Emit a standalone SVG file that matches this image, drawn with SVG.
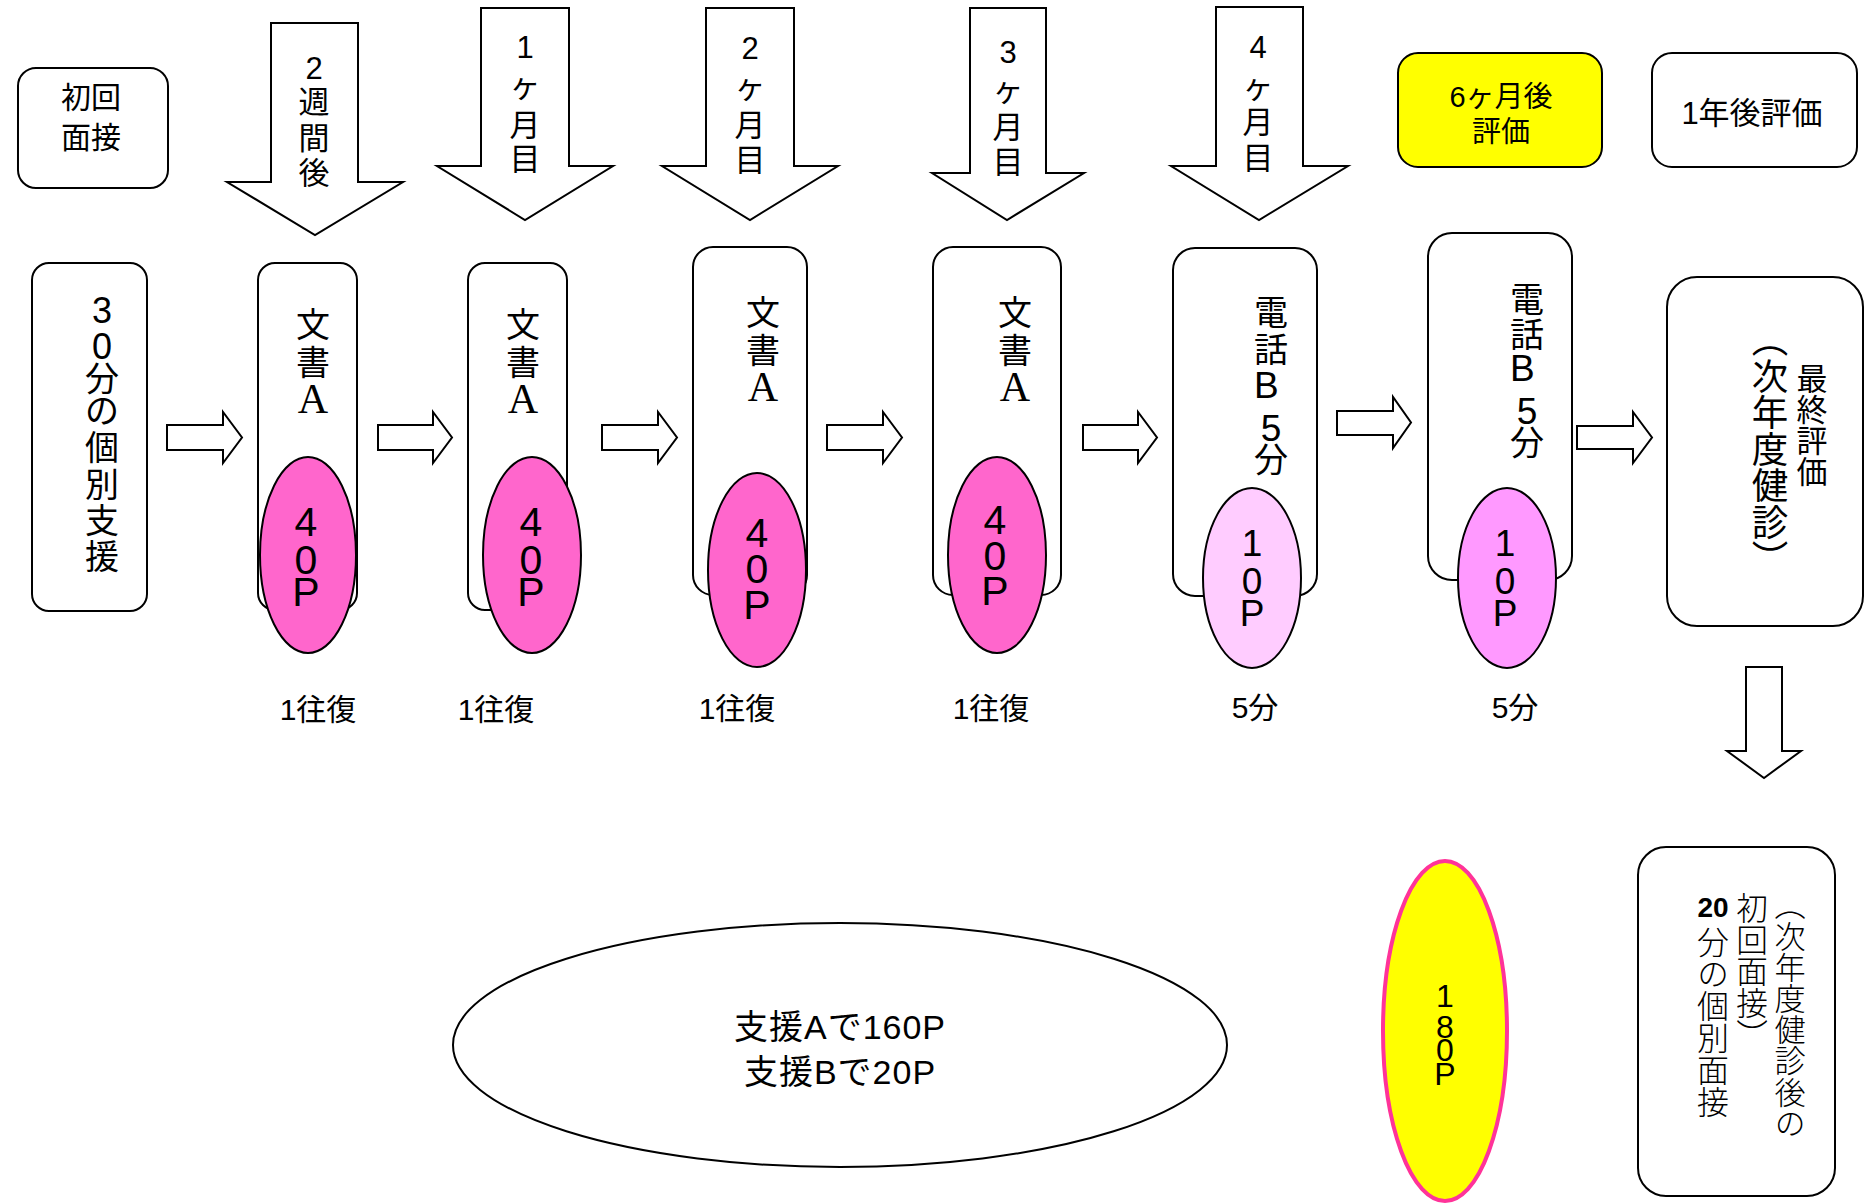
<svg xmlns="http://www.w3.org/2000/svg" width="1865" height="1203" viewBox="0 0 1865 1203">
<style>
.box{fill:#fff;stroke:#000;stroke-width:2}
.arr{fill:#fff;stroke:#000;stroke-width:2;stroke-linejoin:miter}
.t{font-family:"Liberation Sans","Noto Sans CJK JP",sans-serif;fill:#000;dominant-baseline:central;text-anchor:middle}
.serif{font-family:"Liberation Serif","Noto Sans CJK JP",serif}
.vt{font-family:"Noto Sans CJK JP",sans-serif;fill:#000;writing-mode:vertical-rl;text-anchor:start}
.e40{fill:#FF66CC;stroke:#000;stroke-width:2}
.big{font-size:42px}
</style>
<rect width="1865" height="1203" fill="#fff"/>

<g id="shoki-mensetsu">
<rect class="box" x="18" y="68" width="150" height="120" rx="18"/>
<text class="t" font-size="30"><tspan x="91" y="97">初回</tspan><tspan x="91" y="137">面接</tspan></text>
</g>

<g id="arrow-2w">
<polygon class="arr" points="271,23 358,23 358,182 403,182 315,235 227,182 271,182"/>
<text class="t" font-size="31"><tspan x="314" y="68">2</tspan><tspan x="314" y="102">週</tspan><tspan x="314" y="138">間</tspan><tspan x="314" y="173">後</tspan></text>
</g>
<g id="arrow-1m">
<polygon class="arr" points="481,8 569,8 569,166 613,166 525,220 437,166 481,166"/>
<text class="t" font-size="31"><tspan x="525" y="47">1</tspan><tspan x="525" y="86">ヶ</tspan><tspan x="525" y="125">月</tspan><tspan x="525" y="159">目</tspan></text>
</g>
<g id="arrow-2m">
<polygon class="arr" points="706,8 794,8 794,166 838,166 750,220 662,166 706,166"/>
<text class="t" font-size="31"><tspan x="750" y="48">2</tspan><tspan x="750" y="87">ヶ</tspan><tspan x="750" y="125">月</tspan><tspan x="750" y="160">目</tspan></text>
</g>
<g id="arrow-3m">
<polygon class="arr" points="970,8 1046,8 1046,173 1084,173 1007,220 932,173 970,173"/>
<text class="t" font-size="31"><tspan x="1008" y="52">3</tspan><tspan x="1008" y="90">ヶ</tspan><tspan x="1008" y="127">月</tspan><tspan x="1008" y="162">目</tspan></text>
</g>
<g id="arrow-4m">
<polygon class="arr" points="1216,7 1303,7 1303,166 1348,166 1259,220 1171,166 1216,166"/>
<text class="t" font-size="31"><tspan x="1258" y="47">4</tspan><tspan x="1258" y="87">ヶ</tspan><tspan x="1258" y="122">月</tspan><tspan x="1258" y="158">目</tspan></text>
</g>

<g id="hyoka-6m">
<rect x="1398" y="53" width="204" height="114" rx="20" fill="#FFFF00" stroke="#000" stroke-width="2"/>
<text class="t" font-size="29"><tspan x="1501" y="97">6ヶ月後</tspan><tspan x="1501" y="132">評価</tspan></text>
</g>
<g id="hyoka-1y">
<rect class="box" x="1652" y="53" width="205" height="114" rx="20"/>
<text class="t" font-size="31" x="1752" y="113">1年後評価</text>
</g>

<g id="kobetsu-30">
<rect class="box" x="32" y="263" width="115" height="348" rx="17"/>
<text class="t" font-size="34"><tspan x="102" y="310" font-size="36">3</tspan><tspan x="102" y="346" font-size="36">0</tspan><tspan x="102" y="379">分</tspan><tspan x="102" y="411">の</tspan><tspan x="102" y="448">個</tspan><tspan x="102" y="485">別</tspan><tspan x="102" y="521">支</tspan><tspan x="102" y="557">援</tspan></text>
</g>

<g id="bunsho-a-1">
<rect class="box" x="258" y="263" width="99" height="347" rx="17"/>
<text class="t serif" font-size="34"><tspan x="313" y="325">文</tspan><tspan x="313" y="363">書</tspan><tspan class="big" x="313" y="399">A</tspan></text>
</g>
<g id="bunsho-a-2">
<rect class="box" x="468" y="263" width="99" height="347" rx="17"/>
<text class="t serif" font-size="34"><tspan x="523" y="325">文</tspan><tspan x="523" y="363">書</tspan><tspan class="big" x="523" y="399">A</tspan></text>
</g>
<g id="bunsho-a-3">
<rect class="box" x="693" y="247" width="114" height="348" rx="20"/>
<text class="t serif" font-size="34"><tspan x="763" y="313">文</tspan><tspan x="763" y="351">書</tspan><tspan class="big" x="763" y="387">A</tspan></text>
</g>
<g id="bunsho-a-4">
<rect class="box" x="933" y="247" width="128" height="348" rx="20"/>
<text class="t serif" font-size="34"><tspan x="1015" y="313">文</tspan><tspan x="1015" y="351">書</tspan><tspan class="big" x="1015" y="387">A</tspan></text>
</g>
<g id="denwa-b-1">
<rect class="box" x="1173" y="248" width="144" height="348" rx="22"/>
<text class="t" font-size="34"><tspan x="1271" y="313">電</tspan><tspan x="1271" y="350">話</tspan><tspan x="1271" y="385" font-size="37">B</tspan><tspan> </tspan><tspan x="1271" y="428" font-size="37">5</tspan><tspan x="1271" y="460">分</tspan></text>
</g>
<g id="denwa-b-2">
<rect class="box" x="1428" y="233" width="144" height="347" rx="24"/>
<text class="t" font-size="34"><tspan x="1527" y="300">電</tspan><tspan x="1527" y="335">話</tspan><tspan x="1527" y="368" font-size="37">B</tspan><tspan> </tspan><tspan x="1527" y="411" font-size="37">5</tspan><tspan x="1527" y="443">分</tspan></text>
</g>

<g id="point-1">
<ellipse class="e40" cx="308" cy="555" rx="48" ry="98"/>
<text class="t" font-size="41"><tspan x="306" y="522">4</tspan><tspan x="306" y="560">0</tspan><tspan x="306" y="592">P</tspan></text>
</g>
<g id="point-2">
<ellipse class="e40" cx="532" cy="555" rx="49" ry="98"/>
<text class="t" font-size="41"><tspan x="531" y="522">4</tspan><tspan x="531" y="560">0</tspan><tspan x="531" y="592">P</tspan></text>
</g>
<g id="point-3">
<ellipse class="e40" cx="757" cy="570" rx="49" ry="97"/>
<text class="t" font-size="41"><tspan x="757" y="533">4</tspan><tspan x="757" y="569">0</tspan><tspan x="757" y="605">P</tspan></text>
</g>
<g id="point-4">
<ellipse class="e40" cx="997" cy="555" rx="49" ry="98"/>
<text class="t" font-size="41"><tspan x="995" y="520">4</tspan><tspan x="995" y="556">0</tspan><tspan x="995" y="591">P</tspan></text>
</g>
<g id="point-5">
<ellipse cx="1252" cy="578" rx="49" ry="90" fill="#FFCCFF" stroke="#000" stroke-width="2"/>
<text class="t" font-size="37"><tspan x="1252" y="543">1</tspan><tspan x="1252" y="581">0</tspan><tspan x="1252" y="613">P</tspan></text>
</g>
<g id="point-6">
<ellipse cx="1507" cy="578" rx="49" ry="90" fill="#FF99FF" stroke="#000" stroke-width="2"/>
<text class="t" font-size="37"><tspan x="1505" y="543">1</tspan><tspan x="1505" y="581">0</tspan><tspan x="1505" y="613">P</tspan></text>
</g>

<g id="saishu-hyoka">
<rect class="box" x="1667" y="277" width="196" height="349" rx="30"/>
<text class="vt" font-size="31" x="1812" y="362.5">最終評価</text>
<text class="vt" font-size="36.5" x="1770" y="321">（次年度健診）</text>
</g>

<g id="labels">
<text class="t" font-size="30" x="318" y="709">1往復</text>
<text class="t" font-size="30" x="496" y="709">1往復</text>
<text class="t" font-size="30" x="737" y="708">1往復</text>
<text class="t" font-size="30" x="991" y="708">1往復</text>
<text class="t" font-size="30" x="1255" y="707">5分</text>
<text class="t" font-size="30" x="1515" y="707">5分</text>
</g>

<g id="goukei">
<ellipse class="box" cx="840" cy="1045" rx="387" ry="122"/>
<text class="t" font-size="34" letter-spacing="1"><tspan x="840" y="1027">支援Aで160P</tspan><tspan x="840" y="1072">支援Bで20P</tspan></text>
</g>
<g id="point-180">
<ellipse cx="1445" cy="1031" rx="62" ry="170" fill="#FFFF00" stroke="#FF3399" stroke-width="4"/>
<text class="t" font-size="32"><tspan x="1445" y="996">1</tspan><tspan x="1445" y="1027">8</tspan><tspan x="1445" y="1050">0</tspan><tspan x="1445" y="1074">P</tspan></text>
</g>

<g id="jinendo-mensetsu">
<rect class="box" x="1638" y="847" width="197" height="349" rx="28"/>
<text class="vt" font-size="31.2" font-weight="300" x="1790" y="889">（次年度健診後の</text>
<text class="vt" font-size="31.7" font-weight="300" x="1752" y="892">初回面接）</text>
<text class="t" font-size="28" font-weight="bold" x="1713" y="907">20</text>
<text class="vt" font-size="32" font-weight="300" x="1713" y="926">分の個別面接</text>
</g>

<g id="connectors">
<polygon class="arr" points="167,425 223,425 223,412 242,437.5 223,463 223,450 167,450"/>
<polygon class="arr" points="378,425 433,425 433,412 452,437.5 433,463 433,450 378,450"/>
<polygon class="arr" points="602,425 658,425 658,412 677,437.5 658,463 658,450 602,450"/>
<polygon class="arr" points="827,425 883,425 883,412 902,437.5 883,463 883,450 827,450"/>
<polygon class="arr" points="1083,425 1138,425 1138,412 1157,437.5 1138,463 1138,450 1083,450"/>
<polygon class="arr" points="1337,411 1393,411 1393,397 1411,422.5 1393,448 1393,435 1337,435"/>
<polygon class="arr" points="1577,426 1633,426 1633,412 1652,437.5 1633,463 1633,449 1577,449"/>
<polygon class="arr" points="1746,667 1782,667 1782,751 1801,751 1764,778 1727,751 1746,751"/>
</g>
</svg>
